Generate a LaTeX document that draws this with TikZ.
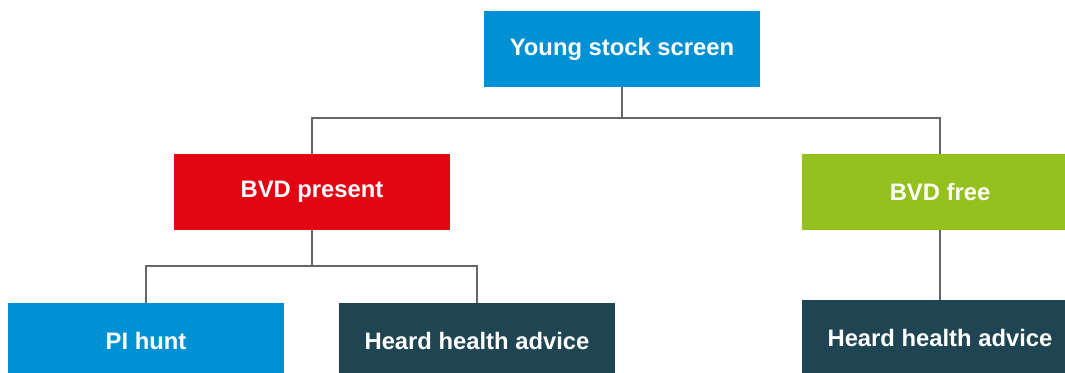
\documentclass[tikz,border=0pt]{standalone}
\usepackage{fontspec}
\setmainfont{Liberation Sans}
\usetikzlibrary{positioning}

\definecolor{screenblue}{HTML}{0091D4}
\definecolor{bvdred}{HTML}{E20613}
\definecolor{bvdgreen}{HTML}{95C11F}
\definecolor{advicedark}{HTML}{1F4452}
\definecolor{linkgray}{HTML}{666666}

\begin{document}
\begin{tikzpicture}[
  x=1pt,y=-1pt,
  font=\fontsize{23.8}{28}\selectfont\bfseries,
  box/.style={rectangle,inner sep=0pt,text=white,minimum width=276pt,minimum height=76pt},
  link/.style={linkgray,line width=2.4pt},
]
\useasboundingbox (0,0) rectangle (1065,372);

% ---------- top level ----------
\node[box,fill=screenblue] (screen) at (622,49) {Young stock screen};

% ---------- test outcome ----------
\node[box,fill=bvdred] (present) at (312,192) {BVD present};
\node[box,fill=bvdgreen] (free) at (940,192) {BVD free};

% ---------- follow-up actions ----------
\node[box,fill=screenblue] (pihunt) at (146,341) {PI hunt};
\node[box,fill=advicedark] (adviceA) at (477,341) {Heard health advice};
\node[box,fill=advicedark] (adviceB) at (940,338) {Heard health advice};

\draw[link] (screen.south) -- ++(0,31) -| (present.north);
\draw[link] (screen.south) -- ++(0,31) -| (free.north);
\draw[link] (present.south) -- ++(0,36) -| (pihunt.north);
\draw[link] (present.south) -- ++(0,36) -| (adviceA.north);
\draw[link] (free.south) -- (adviceB.north);

\end{tikzpicture}
\end{document}
